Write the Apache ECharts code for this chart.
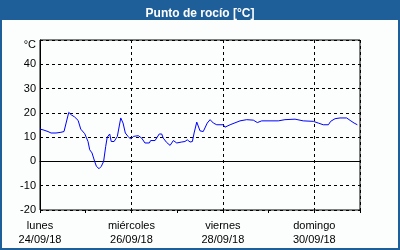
<!DOCTYPE html>
<html><head><meta charset="utf-8">
<script src="https://cdn.jsdelivr.net/npm/echarts@6/dist/echarts.min.js"></script>
<style>html,body{margin:0;padding:0;background:#fbfefc}#c{width:400px;height:250px}</style>
</head><body><div id="c"></div>
<script>
// hours since Monday 24/09/18 00:00
const hours = [0,1.6,4.2,5.8,8.4,11.0,12.6,13.7,15.1,16.4,18.2,20.0,21.4,23.5,25.2,26.1,27.3,28.7,29.6,31.0,32.2,33.4,34.5,35.3,36.6,37.4,38.9,40.6,42.4,43.6,44.8,46.2,47.6,49.0,51.6,53.4,55.1,57.4,58.1,60.4,62.6,63.9,64.7,66.5,68.3,70.0,71.8,74.4,76.1,77.3,78.8,80.0,80.9,82.3,84.0,85.7,86.6,87.8,89.3,91.0,92.8,96.2,97.1,99.8,105.0,108.5,112.0,114.1,116.4,125.1,128.6,133.9,138.2,143.5,146.1,148.7,151.4,152.6,154.9,157.5,161.0,162.8,164.9,166.6];
const dewPoint = [13.3,13.0,12.3,11.7,11.7,12.0,12.3,15.8,20.2,19.2,18.3,16.9,13.3,11.4,8.2,4.8,3.5,0,-2,-3,-2,0,6.2,10,11.3,8.2,8.2,10.3,17.9,15.8,11.7,10.3,9.2,10.3,10.6,9.6,7.6,7.6,8.6,8.6,11.3,11.3,9.6,7.8,6.6,8.6,7.6,8.0,8.2,8.9,8.0,8.2,11.7,16.2,12.6,12.3,11.7,15.8,17.2,15.8,15.1,15.1,14.1,15.1,16.7,17.2,17.0,16.0,16.7,16.7,17.2,17.4,16.7,16.5,15.8,15.1,15.1,16.5,17.6,17.9,17.9,16.9,15.8,15.1];
const dayNames = ['lunes','miércoles','viernes','domingo'];
const dayDates = ['24/09/18','26/09/18','28/09/18','30/09/18'];
const yTicks = {min:-20, max:50, step:10, unit:'°C'};
const titleText = 'Punto de rocío [°C]';

const font = 'Liberation Sans';
const chart = echarts.init(document.getElementById('c'), null, {renderer:'canvas'});
chart.setOption({
  animation:false,
  backgroundColor:'#fbfefc',
  title:{text:titleText,left:'center',top:3,textStyle:{color:'#fff',fontFamily:font,fontWeight:'bold',fontSize:12}},
  graphic:[
    {type:'rect',z:-1,shape:{x:0,y:0,width:400,height:20},style:{fill:'#1e5f99'}},
    {type:'rect',z:-1,shape:{x:1,y:1,width:398,height:248},style:{fill:'none',stroke:'#1e5f99',lineWidth:2}}
  ],
  grid:{left:40,right:40,top:40,bottom:40,show:true,borderColor:'#000',borderWidth:1,backgroundColor:'transparent'},
  xAxis:[
    {type:'value',min:0,max:168,interval:48,
      axisLine:{lineStyle:{color:'#000'}},axisTick:{show:false},
      splitLine:{show:true,lineStyle:{color:'#000',type:[3,3],width:1}},
      axisLabel:{margin:9,color:'#000',fontFamily:font,fontSize:11,lineHeight:14,
        formatter:v=>{const i=v/48; return Number.isInteger(i)&&i<dayNames.length ? dayNames[i]+'\n'+dayDates[i] : '';}}},
    {type:'value',min:0,max:168,interval:24,position:'bottom',
      axisLine:{show:false},axisTick:{show:true,length:3,lineStyle:{color:'#000'}},
      splitLine:{show:false},axisLabel:{show:false}}
  ],
  yAxis:{type:'value',min:yTicks.min,max:yTicks.max,interval:yTicks.step,
    axisLine:{show:true,lineStyle:{color:'#000'}},axisTick:{show:false},
    splitLine:{show:true,lineStyle:{color:'#000',type:[3,3],width:1}},
    axisLabel:{margin:4,color:'#000',fontFamily:font,fontSize:11,
      formatter:v=> v===yTicks.max ? '{u|'+yTicks.unit+'}' : String(v),
      rich:{u:{fontFamily:font,fontSize:11,color:'#000',padding:[10,0,0,0]}}}},
  series:[{type:'line',xAxisIndex:0,data:hours.map((h,i)=>[h,dewPoint[i]]),
    showSymbol:false,lineStyle:{color:'#0000ff',width:1}}]
});
</script></body></html>
